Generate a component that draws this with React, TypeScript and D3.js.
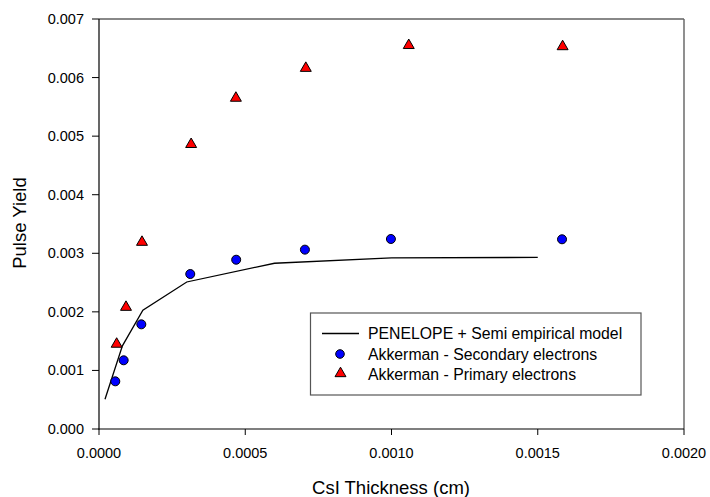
import React from "react";
import * as d3 from "d3";

const modelX = [0.0000205, 0.00008, 0.00015, 0.0003, 0.0006, 0.001, 0.0015];
const modelY = [0.000507, 0.00142, 0.00203, 0.00251, 0.00283, 0.00292, 0.00293];

const secondaryX = [0.0000557, 0.0000843, 0.0001447, 0.000312, 0.000469, 0.000704, 0.000998, 0.001583];
const secondaryY = [0.000814, 0.001173, 0.001787, 0.002646, 0.00289, 0.003062, 0.003244, 0.003239];

const primaryX = [0.0000604, 0.0000923, 0.000147, 0.000315, 0.000468, 0.000707, 0.001059, 0.001585];
const primaryY = [0.00145, 0.00208, 0.00319, 0.00486, 0.00565, 0.00616, 0.00655, 0.00653];

const xTicks = [0, 0.0005, 0.001, 0.0015, 0.002];
const yTicks = [0, 0.001, 0.002, 0.003, 0.004, 0.005, 0.006, 0.007];

const legendLabels = [
  "PENELOPE + Semi empirical model",
  "Akkerman - Secondary electrons",
  "Akkerman - Primary electrons",
];

const W = 710;
const H = 497;
const L = 99, R = 684, T = 19, B = 429;
const font = "Arial, 'Liberation Sans', Helvetica, sans-serif";

export default function App() {
  const x = d3.scaleLinear().domain([0, 0.002]).range([L, R]);
  const y = d3.scaleLinear().domain([0, 0.007]).range([B, T]);
  const line = d3
    .line<number>()
    .x((_, i) => x(modelX[i]))
    .y((d) => y(d));
  const tri = d3.symbol(d3.symbolTriangle, 52)();

  return (
    <svg
      width={W}
      height={H}
      style={{ position: "absolute", left: 0, top: 0, background: "#fff" }}
      fontFamily={font}
    >
      <rect x={0} y={0} width={W} height={H} fill="#fff" />
      {/* frame top/right */}
      <line x1={L} y1={T} x2={R} y2={T} stroke="#606060" strokeWidth={1.4} />
      <line x1={R} y1={T} x2={R} y2={B} stroke="#606060" strokeWidth={1.4} />
      {/* axes */}
      <line x1={L} y1={T} x2={L} y2={B + 0.5} stroke="#000" strokeWidth={1.2} />
      <line x1={L - 0.5} y1={B} x2={R} y2={B} stroke="#000" strokeWidth={1.2} />
      {xTicks.map((t) => (
        <g key={"xt" + t}>
          <line x1={x(t)} y1={B} x2={x(t)} y2={B + 6} stroke="#000" strokeWidth={1} />
          <text x={x(t)} y={458} textAnchor="middle" fontSize={14.5} fill="#000">
            {d3.format(".4f")(t)}
          </text>
        </g>
      ))}
      {yTicks.map((t) => (
        <g key={"yt" + t}>
          <line x1={L - 7} y1={y(t)} x2={L} y2={y(t)} stroke="#000" strokeWidth={1} />
          <text x={84} y={y(t) + 5} textAnchor="end" fontSize={14.5} fill="#000">
            {d3.format(".3f")(t)}
          </text>
        </g>
      ))}
      <text x={391} y={494} textAnchor="middle" fontSize={18.5} fill="#000">
        CsI Thickness (cm)
      </text>
      <text
        transform={`translate(26,223) rotate(-90)`}
        textAnchor="middle"
        fontSize={18.5}
        fill="#000"
      >
        Pulse Yield
      </text>

      <path d={line(modelY) || ""} fill="none" stroke="#000" strokeWidth={1.3} />

      {secondaryY.map((v, i) => (
        <circle
          key={"s" + i}
          cx={x(secondaryX[i])}
          cy={y(v)}
          r={4.5}
          fill="#0000ff"
          stroke="#000"
          strokeWidth={1}
        />
      ))}
      {primaryY.map((v, i) => (
        <path
          key={"p" + i}
          d={tri}
          transform={`translate(${x(primaryX[i])},${y(v)})`}
          fill="#ff0000"
          stroke="#000"
          strokeWidth={1}
        />
      ))}

      {/* legend */}
      <rect x={310.5} y={313} width={330.5} height={82} fill="#fff" stroke="#555" strokeWidth={1.2} />
      <line x1={322} y1={333.5} x2={359} y2={333.5} stroke="#000" strokeWidth={1.3} />
      <circle cx={340} cy={354} r={4.3} fill="#0000ff" stroke="#000" strokeWidth={1} />
      <path d={tri} transform="translate(340.5,373.5)" fill="#ff0000" stroke="#000" strokeWidth={1} />
      {legendLabels.map((lab, i) => (
        <text key={lab} x={368} y={339 + i * 20.5} fontSize={15.8} fill="#000">
          {lab}
        </text>
      ))}
    </svg>
  );
}
